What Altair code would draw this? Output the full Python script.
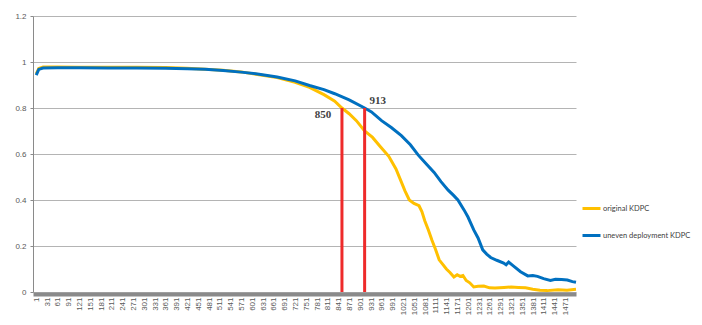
import altair as alt
import pandas as pd

# ---- data ----
orig_idx = [1, 8, 20, 60, 120, 200, 280, 360, 420, 470, 520, 570, 620, 670, 720, 760, 800, 830, 850, 870, 890, 913,
            935, 955, 980, 1000, 1012, 1025, 1037, 1050, 1064, 1072, 1080, 1090, 1100, 1110, 1120, 1130, 1140, 1150,
            1161, 1170, 1178, 1186, 1195, 1205, 1216, 1228, 1244, 1260, 1275, 1300, 1320, 1340, 1360, 1380, 1400,
            1420, 1450, 1475, 1500]
orig_val = [0.948, 0.972, 0.978, 0.978, 0.977, 0.977, 0.977, 0.976, 0.973, 0.969, 0.964, 0.957, 0.945, 0.932, 0.912,
            0.89, 0.858, 0.83, 0.80, 0.775, 0.745, 0.70, 0.672, 0.635, 0.59, 0.535, 0.49, 0.44, 0.40, 0.385, 0.375,
            0.35, 0.31, 0.27, 0.225, 0.185, 0.14, 0.12, 0.10, 0.085, 0.065, 0.075, 0.068, 0.072, 0.05, 0.04, 0.022,
            0.025, 0.026, 0.018, 0.017, 0.02, 0.022, 0.02, 0.018, 0.012, 0.008, 0.006, 0.01, 0.008, 0.012]

unev_idx = [1, 8, 20, 60, 120, 200, 280, 360, 420, 470, 520, 570, 620, 670, 720, 760, 800, 830, 870, 913, 932, 960,
            987, 1015, 1040, 1062, 1085, 1106, 1125, 1145, 1160, 1172, 1189, 1200, 1216, 1228, 1241, 1252, 1263, 1280,
            1299, 1306, 1313, 1325, 1346, 1366, 1380, 1393, 1410, 1429, 1443, 1460, 1476, 1490, 1500]
unev_val = [0.943, 0.968, 0.974, 0.975, 0.975, 0.974, 0.974, 0.973, 0.971, 0.968, 0.963, 0.956, 0.947, 0.935, 0.918,
            0.898, 0.88, 0.862, 0.835, 0.80, 0.783, 0.745, 0.715, 0.68, 0.64, 0.595, 0.555, 0.52, 0.48, 0.443, 0.42,
            0.40, 0.357, 0.326, 0.27, 0.235, 0.183, 0.165, 0.15, 0.138, 0.126, 0.118, 0.13, 0.115, 0.088, 0.07,
            0.072, 0.068, 0.058, 0.05, 0.055, 0.054, 0.052, 0.045, 0.042]

series_names = ["original KDPC", "uneven deployment KDPC"]
series_colors = ["#FFC000", "#0070C0"]

marker_idx = [850, 913]
marker_top = [0.8, 0.8]
marker_text = ["850", "913"]

x_ticks = list(range(1, 1472, 30))
y_ticks = [0, 0.2, 0.4, 0.6, 0.8, 1.0, 1.2]

# ---- tables ----
df = pd.concat([
    pd.DataFrame({"idx": orig_idx, "val": orig_val, "series": series_names[0]}),
    pd.DataFrame({"idx": unev_idx, "val": unev_val, "series": series_names[1]}),
])
mk = pd.DataFrame({"idx": marker_idx, "val": marker_top, "zero": [0, 0], "label": marker_text})

xscale = alt.Scale(domain=[-8, 1500], nice=False, zero=False)
yscale = alt.Scale(domain=[0, 1.2], nice=False)

x_axis = alt.Axis(values=x_ticks, format="d", labelAngle=270, labelFontSize=8, labelColor="#595959",
                  labelFont="Liberation Sans", grid=False, ticks=False, domainColor="#8a8a8a",
                  domainWidth=4, offset=2, labelPadding=3, labelOverlap=False, labelFlush=False)
y_axis = alt.Axis(values=y_ticks, format="~g", labelFontSize=8, labelColor="#595959",
                  labelFont="Liberation Sans", gridColor="#b4b4b4", gridWidth=1,
                  domainColor="#8a8a8a", tickColor="#8a8a8a", tickSize=3, labelPadding=4)

x_enc = alt.X("idx:Q", scale=xscale, title=None, axis=x_axis)
y_enc = alt.Y("val:Q", scale=yscale, title=None, axis=y_axis)

color_enc = alt.Color("series:N",
                      scale=alt.Scale(domain=series_names, range=series_colors),
                      legend=alt.Legend(title=None, orient="none", legendX=548, legendY=182,
                                        symbolType="stroke", symbolStrokeWidth=3, symbolSize=324,
                                        labelFontSize=7.5, labelFont="Lato", labelColor="#404040",
                                        rowPadding=10, padding=0, labelOffset=1, labelLimit=200))

base = alt.Chart(df)
line_orig = base.transform_filter(alt.datum.series == series_names[0]).mark_line(strokeWidth=3).encode(
    x=x_enc, y=y_enc, color=color_enc, order="idx:Q")
line_unev = base.transform_filter(alt.datum.series == series_names[1]).mark_line(strokeWidth=3).encode(
    x=x_enc, y=y_enc, color=color_enc, order="idx:Q")

rules = alt.Chart(mk).mark_rule(color="#EE2A2A", strokeWidth=3).encode(
    x=x_enc, y=alt.Y("zero:Q", scale=yscale, title=None, axis=y_axis), y2="val:Q")

txt850 = alt.Chart(mk).transform_filter(alt.datum.label == "850").mark_text(
    font="Liberation Serif", fontWeight="bold", fontSize=11, color="#404040", dx=-19, dy=7,
    align="center", baseline="middle").encode(x=x_enc, y=y_enc, text="label:N")
txt913 = alt.Chart(mk).transform_filter(alt.datum.label == "913").mark_text(
    font="Liberation Serif", fontWeight="bold", fontSize=11, color="#404040", dx=13, dy=-7,
    align="center", baseline="middle").encode(x=x_enc, y=y_enc, text="label:N")

chart = alt.layer(line_orig, line_unev, rules, txt850, txt913).properties(
    width=543, height=276,
    padding={"left": 25, "top": 8, "right": 118, "bottom": 25},
    autosize=alt.AutoSizeParams(type="none"),
    background="white",
).configure_view(stroke=None)

chart.save("out.html", embed_options={"renderer": "svg", "actions": False})
